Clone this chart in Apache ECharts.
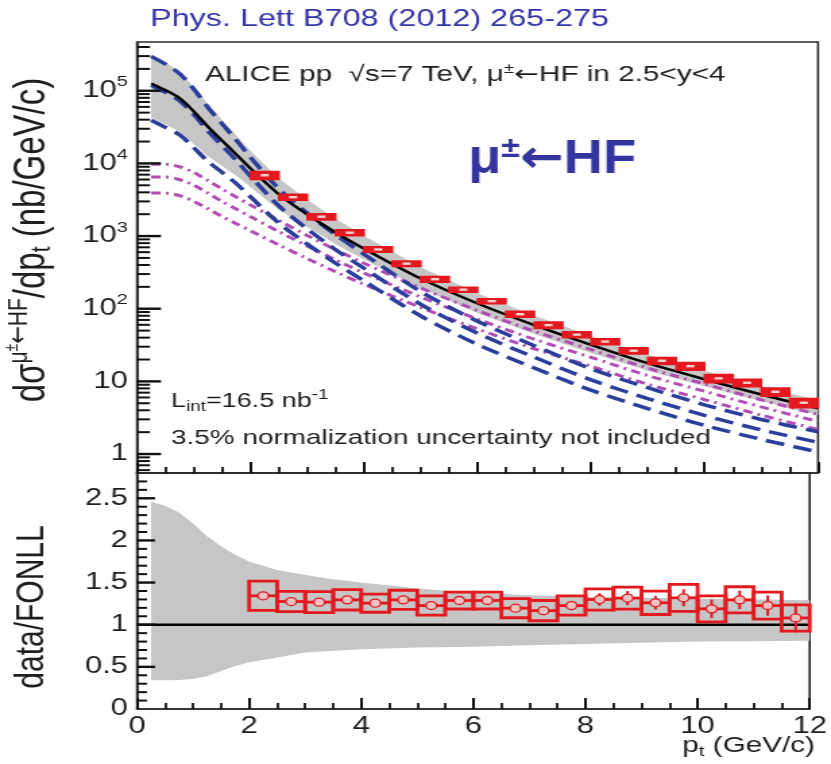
<!DOCTYPE html>
<html><head><meta charset="utf-8">
<script src="https://cdn.jsdelivr.net/npm/echarts@6/dist/echarts.min.js"></script>
<style>
html,body{margin:0;padding:0;background:#fff;overflow:hidden;}
#wrap{width:831px;height:764px;overflow:hidden;position:relative;background:#fff;}
#chart{position:absolute;left:0;top:0;height:764px;transform-origin:0 0;}
</style></head>
<body><div id="wrap"><div id="chart"></div></div>
<script>
// ---------------- data ----------------
const ptData = [2.25, 2.75, 3.25, 3.75, 4.25, 4.75, 5.25, 5.75, 6.25, 6.75, 7.25, 7.75, 8.25, 8.75, 9.25, 9.75, 10.25, 10.75, 11.25, 11.75];
const dataY = [6880, 3430, 1850, 1114, 654, 417, 255, 183, 127, 84, 59.5, 44, 35.3, 26.4, 19.2, 16.2, 11.0, 9.57, 7.19, 5.08];
const sysRel = [0.129, 0.094, 0.099, 0.093, 0.086, 0.088, 0.093, 0.078, 0.078, 0.095, 0.103, 0.093, 0.097, 0.099, 0.110, 0.121, 0.130, 0.120, 0.130, 0.144];
const ratio = [1.343, 1.275, 1.268, 1.295, 1.256, 1.295, 1.227, 1.287, 1.287, 1.196, 1.167, 1.227, 1.299, 1.316, 1.260, 1.319, 1.188, 1.295, 1.227, 1.080];
const ratioStat = [0.02, 0.02, 0.02, 0.02, 0.02, 0.02, 0.025, 0.03, 0.03, 0.045, 0.05, 0.055, 0.075, 0.085, 0.08, 0.10, 0.11, 0.11, 0.12, 0.17];

const ptT = [0.25, 0.5, 0.75, 1.0, 1.25, 1.5, 1.75, 2.0, 2.5, 3.0, 3.5, 4.0, 5.0, 6.0, 7.0, 8.0, 9.0, 10.0, 11.0, 12.0];
const fonllC  = [126000, 102000, 79000, 52000, 32000, 20500, 13300, 8500, 3750, 1980, 1120, 670, 260, 118, 59.5, 31.9, 17.8, 10.7, 6.6, 4.25];
const fonllHi = [310000, 246000, 184000, 114400, 65600, 39600, 24300, 14900, 6190, 3150, 1725, 1005, 372, 163, 80.3, 42.4, 23.5, 14.0, 8.58, 5.48];
const fonllLo = [42800, 34700, 27300, 18500, 12500, 9230, 6780, 4720, 2290, 1330, 773, 476, 190, 87.3, 44.9, 24.6, 14.0, 8.56, 5.31, 3.44];
const charmC  = [119000, 95000, 73000, 47000, 28000, 17500, 11000, 6650, 2600, 1250, 650, 360, 115, 46, 21.5, 10.5, 5.8, 3.4, 2.15, 1.45];
const charmHi = [297500, 232750, 171550, 105750, 58800, 35000, 20900, 12100, 4470, 2060, 1040, 562, 172, 67.2, 31.0, 14.9, 8.18, 4.76, 2.99, 2.02];
const charmLo = [39300, 31350, 24800, 16450, 10640, 7525, 5280, 3460, 1508, 775, 423, 241, 79.4, 32.2, 15.3, 7.56, 4.23, 2.48, 1.59, 1.07];
const beautyC  = [6500, 6500, 6000, 5000, 3900, 3000, 2350, 1850, 1150, 730, 470, 310, 145, 72, 38, 21.4, 12.0, 7.3, 4.45, 2.8];
const beautyHi = [9750, 9750, 9000, 7500, 5810, 4440, 3440, 2680, 1640, 1020, 649, 422, 193, 94.3, 49.0, 27.4, 15.2, 9.2, 5.56, 3.5];
const beautyLo = [3900, 3900, 3600, 3000, 2380, 1860, 1480, 1184, 753, 489, 322, 217, 104, 52.6, 28.1, 16.1, 9.12, 5.62, 3.43, 2.18];
const ratioHi = [2.46, 2.41, 2.33, 2.2, 2.05, 1.93, 1.83, 1.75, 1.65, 1.59, 1.54, 1.50, 1.43, 1.38, 1.35, 1.33, 1.32, 1.31, 1.30, 1.29];
const ratioLo = [0.34, 0.34, 0.345, 0.355, 0.39, 0.45, 0.51, 0.555, 0.61, 0.67, 0.69, 0.71, 0.73, 0.74, 0.755, 0.77, 0.785, 0.80, 0.805, 0.81];

const xTicks = [0, 2, 4, 6, 8, 10, 12];

// ---------------- layout / style ----------------
const SX = 1.35;                      // horizontal stretch of the reference picture
const CW = Math.round(831 / SX);
const K = 831 / CW;
const sx = v => v / K;
const FONT = '"Liberation Sans", Arial, Helvetica, sans-serif';
const ARROWFONT = '"DejaVu Sans", sans-serif';
const AX = '#2a2a2a';
const TK = '#111111';
const RED = '#e3191f';
const BLUE = '#2c3e9c';
const MAG = '#b24db6';
const GRAY = '#c6c6c6';
const TXT = '#1e1e1e';
const BW = 0.25;

const el = document.getElementById('chart');
el.style.width = CW + 'px';
el.style.transform = 'scaleX(' + K + ')';
const chart = echarts.init(el, null, { renderer: 'canvas', devicePixelRatio: 1 });

const LEFT = sx(137), RIGHT = CW - sx(818);

function band(xs, lo, hi, xi, yi) {
  return {
    type: 'custom', xAxisIndex: xi, yAxisIndex: yi, silent: true, clip: true, z: 1,
    data: xs.map((x, i) => [x, lo[i], hi[i]]),
    renderItem(p, api) {
      if (p.dataIndex !== 0) return null;
      const n = xs.length, top = [], bot = [];
      for (let i = 0; i < n; i++) {
        top.push(api.coord([api.value(0, i), api.value(2, i)]));
        bot.push(api.coord([api.value(0, i), api.value(1, i)]));
      }
      return { type: 'polygon', shape: { points: top.concat(bot.reverse()) }, style: { fill: GRAY } };
    }
  };
}
function curve(xs, ys, color, type, width, z) {
  return {
    type: 'line', xAxisIndex: 0, yAxisIndex: 0, silent: true, clip: true, z,
    data: xs.map((x, i) => [x, ys[i]]), showSymbol: false, symbol: 'none', smooth: 0.3,
    lineStyle: { color, width, type, cap: 'butt' }
  };
}

// y tick positions (axis decoration)
const minorVals = [];
for (let n = -1; n <= 5; n++) for (let k = 2; k <= 9; k++) {
  const v = k * Math.pow(10, n);
  if (v > 0.548 && v < 469000) minorVals.push(v);
}
const majorVals = [1, 10, 100, 1000, 10000, 100000];
const ryTickVals = [];
for (let i = 1; i < 28; i++) ryTickVals.push(Math.round(i * 10) / 100);

function yTickSeries(xi, yi, pts) {
  // pts: [x, y, length, thickness]; drawn as thin rects pointing into the frame
  return {
    type: 'custom', xAxisIndex: xi, yAxisIndex: yi, z: 6, silent: true,
    data: pts,
    renderItem(p, api) {
      const c = api.coord([api.value(0), api.value(1)]);
      const L = api.value(2), w = api.value(3);
      return { type: 'group', children: [{ type: 'rect', shape: { x: c[0], y: c[1] - w / 2, width: L, height: w }, style: { fill: TK } }] };
    }
  };
}
const topYTicks = []
  .concat(majorVals.map(v => [0, v, sx(24), 2.4]))
  .concat(minorVals.map(v => [0, v, sx(13), 2.0]));
const botYTicks = ryTickVals.map(v => [0, v, (Math.round(v * 10) % 5 === 0) ? sx(18) : sx(10), (Math.round(v * 10) % 5 === 0) ? 2.4 : 2.0]);

const labelRich = {
  b: { fontSize: 23, fontFamily: FONT, color: TXT },
  s: { fontSize: 15, fontFamily: FONT, color: TXT, padding: [0, 0, 17, 0] }
};

const option = {
  animation: false,
  backgroundColor: '#fff',
  grid: [
    { left: LEFT, right: RIGHT, top: 42, height: 431, show: true, borderColor: AX, borderWidth: 1.6 },
    { left: LEFT, right: RIGHT, top: 473, height: 236, show: true, borderColor: AX, borderWidth: 1.6 }
  ],
  xAxis: [0, 1].map(g => ({
    type: 'value', gridIndex: g, min: 0, max: 12, interval: 2,
    axisLine: { show: true, lineStyle: { color: AX, width: 1.6 } },
    axisTick: { show: true, inside: true, length: 11, lineStyle: { color: TK, width: 2 } },
    minorTick: { show: true, splitNumber: 4, length: 6, lineStyle: { color: TK, width: 1.8 } },
    splitLine: { show: false },
    axisLabel: g === 0 ? { show: false } : {
      show: true, fontSize: 23, fontFamily: FONT, color: TXT, margin: 6,
      formatter: v => (xTicks.indexOf(v) >= 0 ? String(v) : '')
    }
  })),
  yAxis: [
    {
      type: 'log', logBase: 10, gridIndex: 0, min: 0.548, max: 469000,
      axisLine: { show: true, lineStyle: { color: AX, width: 1.6 } },
      axisTick: { show: false },
      splitLine: { show: false },
      axisLabel: {
        show: true, margin: sx(9), showMinLabel: false, showMaxLabel: false,
        fontSize: 23, fontFamily: FONT, color: TXT, rich: labelRich,
        formatter: v => {
          const e = Math.log10(v);
          if (Math.abs(e - Math.round(e)) > 1e-6) return '';
          const n = Math.round(e);
          if (n === 0) return '{b|1}';
          if (n === 1) return '{b|10}';
          return '{b|10}{s|' + n + '}';
        }
      }
    },
    {
      type: 'value', gridIndex: 1, min: 0, max: 2.8, interval: 0.5,
      axisLine: { show: true, lineStyle: { color: AX, width: 1.6 } },
      axisTick: { show: false },
      splitLine: { show: false },
      axisLabel: {
        show: true, margin: sx(9), showMaxLabel: false, fontSize: 23, fontFamily: FONT, color: TXT,
        formatter: v => (v > 2.6 ? '' : String(v))
      }
    }
  ],
  series: [
    band(ptT, fonllLo, fonllHi, 0, 0),
    curve(ptT, beautyHi, MAG, [7, 4, 2, 4], 3, 3),
    curve(ptT, beautyC, MAG, [7, 4, 2, 4], 3, 3),
    curve(ptT, beautyLo, MAG, [7, 4, 2, 4], 3, 3),
    curve(ptT, charmHi, BLUE, [14, 7], 3.5, 3),
    curve(ptT, charmC, BLUE, [14, 7], 3.5, 3),
    curve(ptT, charmLo, BLUE, [14, 7], 3.5, 3),
    curve(ptT, fonllC, '#000', 'solid', 2.5, 4),
    {
      type: 'custom', xAxisIndex: 0, yAxisIndex: 0, z: 6, silent: true,
      data: ptData.map((x, i) => [x, dataY[i], sysRel[i]]),
      renderItem(p, api) {
        const x = api.value(0), v = api.value(1), s = api.value(2);
        const a = api.coord([x - BW, v * (1 + s)]), b = api.coord([x + BW, v * (1 - s)]), c = api.coord([x, v]);
        return { type: 'group', children: [
          { type: 'rect', shape: { x: a[0], y: a[1], width: b[0] - a[0], height: b[1] - a[1] }, style: { fill: RED, stroke: RED, lineWidth: 1.5 } },
          { type: 'rect', shape: { x: c[0] - 3, y: c[1] - 1.2, width: 6, height: 2.4 }, style: { fill: '#f6d2d2' } }
        ] };
      }
    },
    yTickSeries(0, 0, topYTicks),
    band(ptT, ratioLo, ratioHi, 1, 1),
    {
      type: 'line', xAxisIndex: 1, yAxisIndex: 1, z: 3, silent: true, showSymbol: false, symbol: 'none',
      data: [[0, 1], [12, 1]], lineStyle: { color: '#000', width: 2.5 }
    },
    {
      type: 'custom', xAxisIndex: 1, yAxisIndex: 1, z: 5, silent: true,
      data: ptData.map((x, i) => [x, ratio[i], ratio[i] * sysRel[i], ratioStat[i]]),
      renderItem(p, api) {
        const x = api.value(0), r = api.value(1), sh = api.value(2), st = api.value(3);
        const a = api.coord([x - BW, r + sh]), b = api.coord([x + BW, r - sh]), c = api.coord([x, r]);
        const t = api.coord([x, r + st]), d = api.coord([x, r - st]);
        return { type: 'group', children: [
          { type: 'rect', shape: { x: a[0], y: a[1], width: b[0] - a[0], height: b[1] - a[1] }, style: { fill: 'none', stroke: RED, lineWidth: 2.8 } },
          { type: 'line', shape: { x1: a[0], y1: c[1], x2: b[0], y2: c[1] }, style: { stroke: RED, lineWidth: 2.8 } },
          { type: 'line', shape: { x1: c[0], y1: t[1], x2: c[0], y2: d[1] }, style: { stroke: RED, lineWidth: 2 } },
          { type: 'circle', shape: { cx: c[0], cy: c[1], r: 4 }, style: { fill: '#f1c2c2', stroke: RED, lineWidth: 1.3 } }
        ] };
      }
    },
    yTickSeries(1, 1, botYTicks)
  ],
  graphic: { elements: [
    { type: 'text', x: sx(150), y: 19, silent: true,
      style: { text: 'Phys. Lett B708 (2012) 265-275', font: '24px ' + FONT, fill: '#3535a8', align: 'left', verticalAlign: 'middle' } },
    { type: 'text', x: sx(205), y: 75, silent: true,
      style: { text: '{m|ALICE pp  √s=7 TeV, μ}{p|±}{a|←}{m|HF in 2.5<y<4}', align: 'left', verticalAlign: 'middle',
        rich: { m: { fontSize: 22, fontFamily: FONT, fill: TXT }, a: { fontSize: 22, fontFamily: ARROWFONT, fill: TXT },
                p: { fontSize: 14, fontFamily: FONT, fill: TXT, padding: [0, 0, 12, 0] } } } },
    { type: 'text', x: sx(468), y: 160, scaleX: 0.84, silent: true,
      style: { text: '{m|μ}{p|±}{a|←}{m|HF}', align: 'left', verticalAlign: 'middle',
        rich: { m: { fontSize: 48, fontWeight: 'bold', fontFamily: FONT, fill: '#34349e' },
                a: { fontSize: 46, fontWeight: 'bold', fontFamily: ARROWFONT, fill: '#34349e' },
                p: { fontSize: 30, fontWeight: 'bold', fontFamily: FONT, fill: '#34349e', padding: [0, 0, 22, 0] } } } },
    { type: 'text', x: sx(171), y: 401, silent: true,
      style: { text: '{m|L}{b|int}{m|=16.5 nb}{p|-1}', align: 'left', verticalAlign: 'middle',
        rich: { m: { fontSize: 20, fontFamily: FONT, fill: TXT }, b: { fontSize: 14, fontFamily: FONT, fill: TXT, padding: [12, 0, 0, 0] }, p: { fontSize: 14, fontFamily: FONT, fill: TXT, padding: [0, 0, 12, 0] } } } },
    { type: 'text', x: sx(171), y: 438, silent: true,
      style: { text: '3.5% normalization uncertainty not included', font: '20.7px ' + FONT, fill: TXT, align: 'left', verticalAlign: 'middle' } },
    { type: 'text', x: sx(32), y: 240, rotation: Math.PI / 2, silent: true,
      style: { text: '{m|dσ}{p|μ}{q|±}{a|←}{p|HF}{m|/dp}{s|t}{m| (nb/GeV/c)}', align: 'center', verticalAlign: 'middle',
        rich: { m: { fontSize: 33, fontFamily: FONT, fill: TXT }, p: { fontSize: 21, fontFamily: FONT, fill: TXT, padding: [0, 0, 19, 0] },
                a: { fontSize: 21, fontFamily: ARROWFONT, fill: TXT, padding: [0, 0, 19, 0] },
                q: { fontSize: 14, fontFamily: FONT, fill: TXT, padding: [0, 0, 30, 0] }, s: { fontSize: 21, fontFamily: FONT, fill: TXT, padding: [15, 0, 0, 0] } } } },
    { type: 'text', x: sx(32), y: 607, rotation: Math.PI / 2, silent: true,
      style: { text: 'data/FONLL', font: '30px ' + FONT, fill: TXT, align: 'center', verticalAlign: 'middle' } },
    { type: 'text', x: sx(815), y: 746, silent: true,
      style: { text: '{m|p}{s|t}{m| (GeV/c)}', align: 'right', verticalAlign: 'middle',
        rich: { m: { fontSize: 22, fontFamily: FONT, fill: TXT }, s: { fontSize: 15, fontFamily: FONT, fill: TXT, padding: [12, 0, 0, 0] } } } }
  ] }
};
chart.setOption(option);
</script>
</body></html>
